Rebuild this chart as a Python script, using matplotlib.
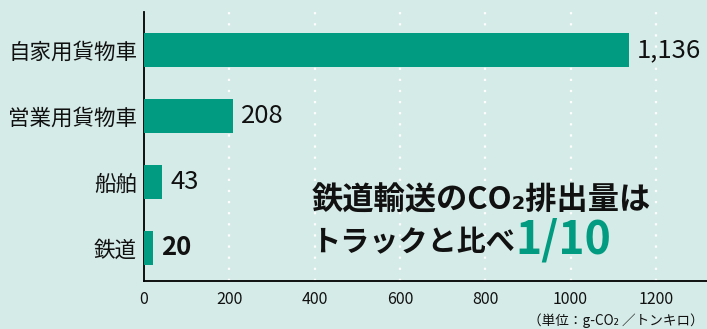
import matplotlib
matplotlib.use("Agg")
import matplotlib.pyplot as plt

plt.rcParams['font.family'] = ['Noto Sans CJK JP', 'DejaVu Sans']

# data
modes = ["自家用貨物車", "営業用貨物車", "船舶", "鉄道"]
values = [1136, 208, 43, 20]
value_labels = ["1,136", "208", "43", "20"]
xticks = [0, 200, 400, 600, 800, 1000, 1200]

bg = "#d5ebe7"
green = "#009b80"

fig = plt.figure(figsize=(7.07, 3.29), dpi=100, facecolor=bg)
ax = fig.add_axes([0.2037, 0.146, 0.7963, 0.8175], facecolor=bg)

ypos = list(range(len(modes)))
ax.barh(ypos, values, height=0.515, color=green, zorder=3)

for y, v, lab in zip(ypos, values, value_labels):
    bold = lab == "20"
    ax.annotate(lab, xy=(v, y), xytext=(6, 0), textcoords="offset points",
                va="center", ha="left", fontsize=18.5,
                fontweight="bold" if bold else "normal", color="#111111")

ax.set_xlim(0, 1320)
ax.set_ylim(3.5, -0.576)
ax.set_yticks(ypos)
ax.set_yticklabels(modes, fontsize=15.5, color="#111111")
ax.set_xticks(xticks)
ax.set_xticklabels([str(t) for t in xticks], fontsize=11.5, color="#111111")
ax.tick_params(axis="both", length=0, pad=5)
ax.tick_params(axis="x", pad=7)

for t in xticks[1:]:
    ax.axvline(t, color="white", linestyle=(0, (1, 4)), linewidth=1.6, zorder=1)

for s in ["top", "right"]:
    ax.spines[s].set_visible(False)
ax.spines["left"].set_linewidth(1.3)
ax.spines["bottom"].set_linewidth(1.3)

# callout text
ax.text(392, 2.29, "鉄道輸送のCO₂排出量は", fontsize=22.5, fontweight="bold",
        va="center", ha="left", color="#111111", zorder=4)
t2 = ax.text(392, 2.91, "トラックと比べ", fontsize=21, fontweight="bold",
             va="center", ha="left", color="#111111", zorder=4)
ax.annotate("1/10", xy=(1, 0.12), xycoords=t2, va="baseline", ha="left",
            fontsize=32, fontweight="bold", color=green, zorder=4)

fig.text(0.996, 0.004, "（単位：g-CO₂ ／トンキロ）", fontsize=9.8, ha="right",
         va="bottom", color="#111111")

fig.savefig("out.png", dpi=100, facecolor=bg)
